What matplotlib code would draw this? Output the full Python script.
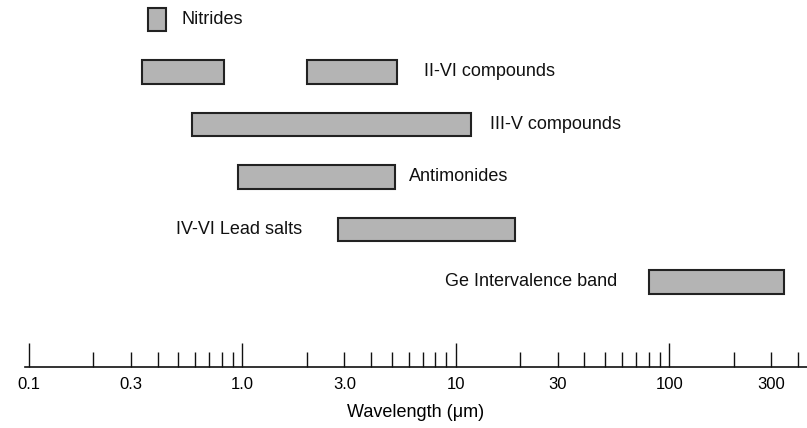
import matplotlib.pyplot as plt

plt.rcParams['font.family'] = ['Liberation Sans', 'DejaVu Sans']

# Spectral ranges (um) of semiconductor laser material families
rows = [0, 1, 1, 2, 3, 4, 5]
lo = [0.36, 0.34, 2.0, 0.58, 0.95, 2.8, 80]
hi = [0.44, 0.82, 5.3, 11.8, 5.2, 19.0, 345]

names = ['Nitrides', 'II-VI compounds', 'III-V compounds', 'Antimonides',
         'IV-VI Lead salts', 'Ge Intervalence band']
name_rows = [0, 1, 2, 3, 4, 5]
name_x = [0.52, 7.1, 14.4, 6.0, 1.9, 57]
name_ha = ['left', 'left', 'left', 'left', 'right', 'right']

major = [0.1, 1, 10, 100]
minor = [0.2, 0.3, 0.4, 0.5, 0.6, 0.7, 0.8, 0.9,
         2, 3, 4, 5, 6, 7, 8, 9,
         20, 30, 40, 50, 60, 70, 80, 90,
         200, 300, 400]
major_labels = ['0.1', '1.0', '10', '100']
minor_labels = {0.3: '0.3', 3: '3.0', 30: '30', 300: '300'}

fig = plt.figure(figsize=(8.07, 4.28), dpi=100)
ax = fig.add_axes([25 / 807, 1 - 367 / 428, 782 / 807, 367 / 428])

widths = [h - l for l, h in zip(lo, hi)]
ax.barh(rows, widths, left=lo, height=0.44, color='#b4b4b4',
        edgecolor='#222222', linewidth=1.5)

for r, n, x, ha in zip(name_rows, names, name_x, name_ha):
    ax.text(x, r, n, ha=ha, va='center', fontsize=13, color='#111111')

ax.set_xscale('log')
ax.set_xlim(0.0958, 441)
ax.set_ylim(6.62, -0.371)

ax.set_xticks(major, major_labels)
ax.set_xticks(minor, [minor_labels.get(m, '') for m in minor], minor=True)
ax.tick_params(axis='x', which='major', direction='in', length=17, width=1,
               pad=7, labelsize=12, color='#111111')
ax.tick_params(axis='x', which='minor', direction='in', length=11, width=1,
               pad=7, labelsize=12, color='#111111')
ax.set_yticks([])

for side in ['left', 'top', 'right']:
    ax.spines[side].set_visible(False)
ax.spines['bottom'].set_linewidth(1.2)
ax.spines['bottom'].set_color('#111111')

ax.set_xlabel('Wavelength (\u03bcm)', fontsize=13, labelpad=9)

fig.savefig('out.png', dpi=100)
